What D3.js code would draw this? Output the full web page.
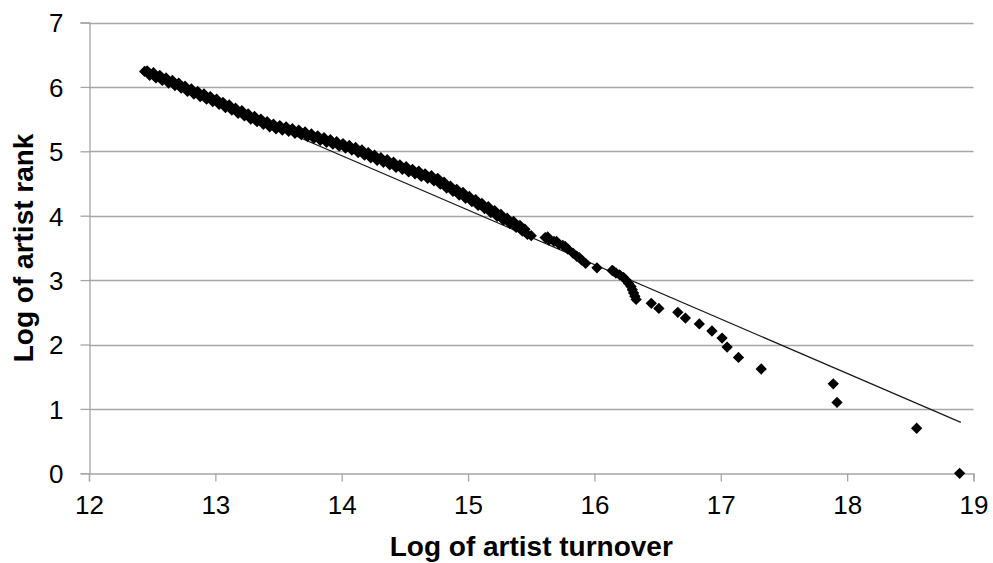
<!DOCTYPE html>
<html>
<head>
<meta charset="utf-8">
<script src="https://cdn.jsdelivr.net/npm/d3@7"></script>
<style>
  body { margin: 0; background: #fff; }
  svg { display: block; font-family: "Liberation Sans", Arial, sans-serif; }
</style>
</head>
<body>
<div id="chart"></div>
<script>
// Log of artist turnover (x) against log of artist rank (y)
// dense part: upper and lower edge of the band, read alternately
var turnover = [
  12.44, 12.46, 12.48, 12.51, 12.53, 12.56, 12.58, 12.61, 12.63, 12.66,
  12.68, 12.71, 12.73, 12.76, 12.78, 12.81, 12.83, 12.86, 12.88, 12.91,
  12.93, 12.96, 12.98, 13.01, 13.03, 13.06, 13.08, 13.11, 13.13, 13.16,
  13.18, 13.21, 13.23, 13.26, 13.28, 13.31, 13.33, 13.36, 13.38, 13.41,
  13.43, 13.46, 13.48, 13.51, 13.53, 13.56, 13.58, 13.61, 13.63, 13.66,
  13.68, 13.71, 13.73, 13.76, 13.78, 13.81, 13.83, 13.86, 13.88, 13.91,
  13.93, 13.96, 13.98, 14.01, 14.03, 14.06, 14.08, 14.11, 14.13, 14.16,
  14.18, 14.21, 14.23, 14.26, 14.28, 14.31, 14.33, 14.36, 14.38, 14.41,
  14.43, 14.46, 14.48, 14.51, 14.53, 14.56, 14.58, 14.61, 14.63, 14.66,
  14.68, 14.71, 14.73, 14.76, 14.78, 14.81, 14.83, 14.86, 14.88, 14.91,
  14.93, 14.96, 14.98, 15.01, 15.03, 15.06, 15.08, 15.11, 15.13, 15.16,
  15.18, 15.21, 15.23, 15.26, 15.28, 15.31, 15.33, 15.36, 15.38, 15.41,
  15.43, 15.45, 15.47, 15.50,
  15.61, 15.63, 15.64, 15.68, 15.70, 15.72, 15.75, 15.77, 15.79, 15.83,
  15.86, 15.88, 15.90, 15.93,
  16.02, 16.14, 16.15, 16.17, 16.20, 16.23, 16.25, 16.27, 16.29, 16.30,
  16.31, 16.32, 16.33, 16.45, 16.51, 16.66, 16.72, 16.83, 16.93, 17.01,
  17.05, 17.14, 17.32, 17.89, 17.92, 18.55, 18.89
];
var rank = [
  6.24, 6.25, 6.18, 6.22, 6.14, 6.18, 6.10, 6.14, 6.06, 6.10,
  6.02, 6.06, 5.98, 6.01, 5.93, 5.97, 5.89, 5.93, 5.85, 5.89,
  5.81, 5.85, 5.77, 5.81, 5.73, 5.76, 5.68, 5.72, 5.64, 5.67,
  5.59, 5.63, 5.55, 5.58, 5.50, 5.54, 5.46, 5.50, 5.42, 5.46,
  5.38, 5.42, 5.35, 5.40, 5.33, 5.38, 5.31, 5.35, 5.28, 5.33,
  5.26, 5.30, 5.23, 5.27, 5.20, 5.24, 5.17, 5.21, 5.14, 5.18,
  5.11, 5.15, 5.08, 5.12, 5.05, 5.09, 5.02, 5.06, 4.98, 5.02,
  4.94, 4.98, 4.90, 4.94, 4.86, 4.90, 4.83, 4.87, 4.79, 4.83,
  4.75, 4.79, 4.72, 4.76, 4.68, 4.72, 4.65, 4.69, 4.61, 4.65,
  4.58, 4.62, 4.54, 4.58, 4.49, 4.52, 4.43, 4.46, 4.38, 4.41,
  4.32, 4.36, 4.27, 4.30, 4.22, 4.25, 4.16, 4.19, 4.11, 4.14,
  4.05, 4.08, 3.99, 4.02, 3.93, 3.96, 3.88, 3.91, 3.82, 3.85,
  3.76, 3.79, 3.71, 3.69,
  3.66, 3.67, 3.62, 3.60, 3.60, 3.56, 3.54, 3.52, 3.48, 3.42,
  3.37, 3.35, 3.31, 3.26,
  3.19, 3.15, 3.14, 3.11, 3.08, 3.04, 3.00, 2.95, 2.90, 2.85,
  2.80, 2.75, 2.70, 2.64, 2.56, 2.50, 2.41, 2.32, 2.21, 2.10,
  1.96, 1.80, 1.62, 1.39, 1.10, 0.70, 0.00
];

// linear trend line, end points
var trendX = [12.44, 18.90];
var trendY = [6.25, 0.79];

var xTicks = [12, 13, 14, 15, 16, 17, 18, 19];
var yTicks = [0, 1, 2, 3, 4, 5, 6, 7];

var width = 993, height = 563;
var margin = {top: 22.5, right: 19.5, bottom: 89.7, left: 89};

var svg = d3.select("#chart").append("svg")
  .attr("width", width)
  .attr("height", height);

var x = d3.scaleLinear().domain([12, 19]).range([margin.left, width - margin.right]);
var y = d3.scaleLinear().domain([0, 7]).range([height - margin.bottom, margin.top]);

var gridColor = "#a6a6a6";

// horizontal gridlines
svg.append("g")
  .selectAll("line")
  .data(yTicks.slice(1))
  .enter().append("line")
  .attr("x1", x(12))
  .attr("x2", x(19))
  .attr("y1", function(d) { return Math.round(y(d)) + 0.5; })
  .attr("y2", function(d) { return Math.round(y(d)) + 0.5; })
  .style("stroke", gridColor)
  .style("stroke-width", 1.3);

// axes
var xAxis = svg.append("g")
  .attr("transform", "translate(0," + (Math.round(y(0)) + 0.5) + ")")
  .call(d3.axisBottom(x).tickValues(xTicks).tickSize(8).tickPadding(14).tickFormat(d3.format("d")));

var yAxis = svg.append("g")
  .attr("transform", "translate(" + (Math.round(x(12)) + 0.5) + ",0)")
  .call(d3.axisLeft(y).tickValues(yTicks).tickSize(9).tickPadding(17).tickFormat(d3.format("d")));

[xAxis, yAxis].forEach(function(a) {
  a.select(".domain").style("stroke", gridColor).style("stroke-width", 1.3);
  a.selectAll(".tick line").style("stroke", gridColor).style("stroke-width", 1.3);
  a.selectAll(".tick text")
    .style("font-family", "'Liberation Sans', Arial, sans-serif")
    .style("font-size", "26px")
    .style("fill", "#000");
});
yAxis.selectAll(".tick text").attr("dy", "0.36em");

// trend line
svg.append("line")
  .attr("x1", x(trendX[0]))
  .attr("y1", y(trendY[0]))
  .attr("x2", x(trendX[1]))
  .attr("y2", y(trendY[1]))
  .style("stroke", "#1a1a1a")
  .style("stroke-width", 1.2);

// diamond markers
var diamond = d3.symbol().type(d3.symbolSquare).size(64);
svg.append("g")
  .selectAll("path")
  .data(d3.range(turnover.length))
  .enter().append("path")
  .attr("d", diamond)
  .attr("transform", function(i) {
    return "translate(" + x(turnover[i]) + "," + y(rank[i]) + ") rotate(45)";
  })
  .style("fill", "#000");

// axis titles
svg.append("text")
  .attr("x", (x(12) + x(19)) / 2)
  .attr("y", 556)
  .attr("text-anchor", "middle")
  .style("font-size", "28px")
  .style("font-weight", "bold")
  .text("Log of artist turnover");

svg.append("text")
  .attr("transform", "translate(33," + ((y(0) + y(7)) / 2) + ") rotate(-90)")
  .attr("text-anchor", "middle")
  .style("font-size", "28px")
  .style("font-weight", "bold")
  .text("Log of artist rank");
</script>
</body>
</html>
